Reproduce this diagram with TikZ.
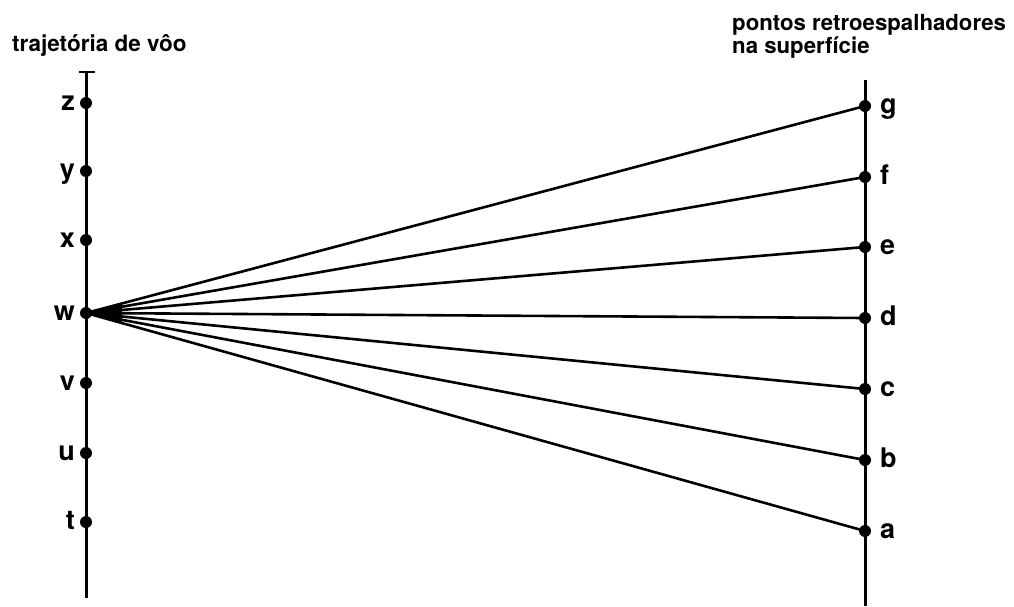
\documentclass[tikz,border=0pt]{standalone}
\usepackage{fontspec}
\setmainfont{TeX Gyre Heros}
\begin{document}
\begin{tikzpicture}[x=1pt,y=-1pt]
\tikzstyle{spot}=[fill, circle, inner sep=0pt, minimum size=12pt]
\tikzstyle{tag}=[inner sep=0pt, font=\fontsize{27}{29}\selectfont\bfseries]
\tikzstyle{ray}=[line width=2.6pt]
    \useasboundingbox (0,0) rectangle (1014,606);

    % titles
    \node[tag, font=\fontsize{22.5}{24}\selectfont\bfseries, anchor=base west] (trj) at (12,51) {trajetória de vôo};
    \node[tag, font=\fontsize{22.2}{23}\selectfont\bfseries, anchor=north west, align=left] (sup) at (732,14) {pontos retroespalhadores\\na superfície};

    % flight path
    \coordinate (ltop) at (86,72);
    \coordinate (lbot) at (86,598);
    \draw[line width=3pt] (ltop) -- (lbot);
    \draw[line width=2.4pt] (79,72) -- (95,72);

    \node[spot] (z) at (86,103) {};
    \node[spot] (y) at (86,171) {};
    \node[spot] (x) at (86,240) {};
    \node[spot] (w) at (86,313) {};
    \node[spot] (v) at (86,383) {};
    \node[spot] (u) at (86,453) {};
    \node[spot] (t) at (86,522) {};

    \node[tag, anchor=base east] (tz) at (75,110) {z};
    \node[tag, anchor=base east] (ty) at (75,178) {y};
    \node[tag, anchor=base east] (tx) at (75,247) {x};
    \node[tag, anchor=base east] (tw) at (75,320) {w};
    \node[tag, anchor=base east] (tv) at (75,390) {v};
    \node[tag, anchor=base east] (tu) at (75,460) {u};
    \node[tag, anchor=base east] (tt) at (75,529) {t};

    % surface
    \coordinate (rtop) at (865,80);
    \coordinate (rbot) at (865,606);
    \draw[line width=3pt] (rtop) -- (rbot);

    \node[spot] (g) at (865,106) {};
    \node[spot] (f) at (865,177) {};
    \node[spot] (e) at (865,247) {};
    \node[spot] (d) at (865,318) {};
    \node[spot] (c) at (865,389) {};
    \node[spot] (b) at (865,460) {};
    \node[spot] (a) at (865,531) {};

    \node[tag, anchor=base west] (tg) at (880,113) {g};
    \node[tag, anchor=base west] (tf) at (880,184) {f};
    \node[tag, anchor=base west] (te) at (880,254) {e};
    \node[tag, anchor=base west] (td) at (880,325) {d};
    \node[tag, anchor=base west] (tc) at (880,396) {c};
    \node[tag, anchor=base west] (tb) at (880,467) {b};
    \node[tag, anchor=base west] (ta) at (880,538) {a};

    % rays from w
    \fill (w.center) -- (122,303) -- (122,324) -- cycle;
    \draw[ray] (w.center) -- (g.center);
    \draw[ray] (w.center) -- (f.center);
    \draw[ray] (w.center) -- (e.center);
    \draw[ray] (w.center) -- (d.center);
    \draw[ray] (w.center) -- (c.center);
    \draw[ray] (w.center) -- (b.center);
    \draw[ray] (w.center) -- (a.center);

\end{tikzpicture}
\end{document}
